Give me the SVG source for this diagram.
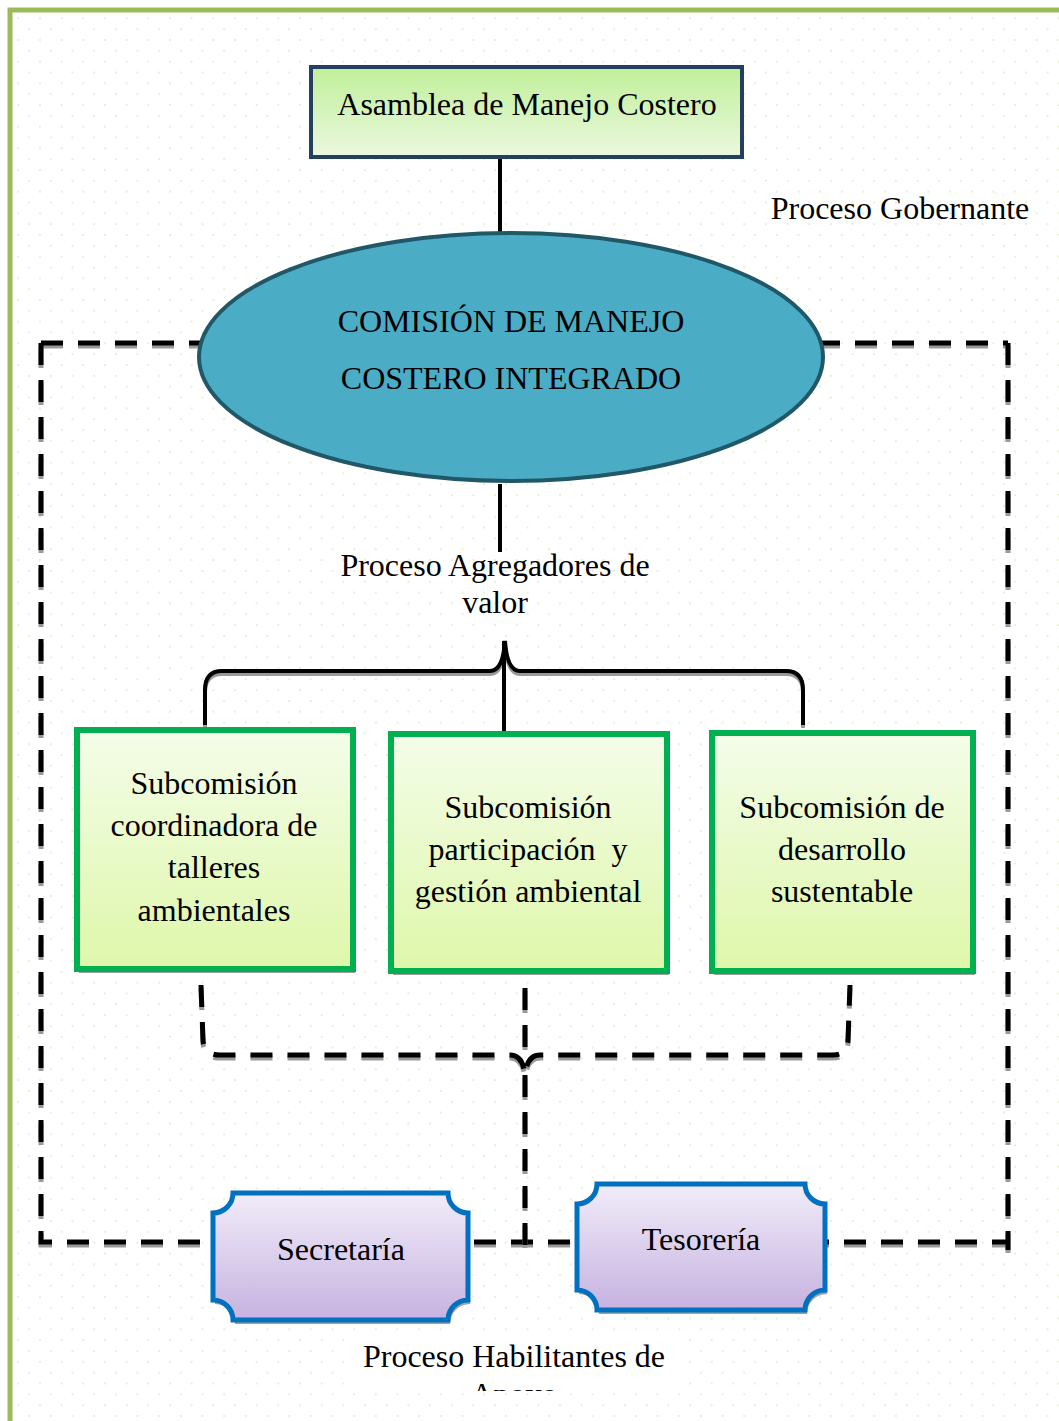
<svg xmlns="http://www.w3.org/2000/svg" width="1059" height="1421" viewBox="0 0 1059 1421">
<defs>
<pattern id="dots" patternUnits="userSpaceOnUse" x="18.3" y="18.3" width="21.67" height="21.67">
<circle cx="0" cy="0" r="1.1" fill="#e4ecca"/>
<circle cx="21.67" cy="0" r="1.1" fill="#e4ecca"/>
<circle cx="0" cy="21.67" r="1.1" fill="#e4ecca"/>
<circle cx="21.67" cy="21.67" r="1.1" fill="#e4ecca"/>
<circle cx="10.83" cy="10.83" r="1.1" fill="#e4ecca"/>
</pattern>
<linearGradient id="gTop" x1="0" y1="0" x2="0" y2="1">
<stop offset="0" stop-color="#c0ef98"/>
<stop offset="1" stop-color="#ebf8e0"/>
</linearGradient>
<linearGradient id="gGreen" x1="0" y1="0" x2="0" y2="1">
<stop offset="0" stop-color="#f4fde9"/>
<stop offset="1" stop-color="#def7aa"/>
</linearGradient>
<linearGradient id="gPurple" x1="0" y1="0" x2="0" y2="1">
<stop offset="0" stop-color="#f1ecf9"/>
<stop offset="1" stop-color="#c6b2e0"/>
</linearGradient>
<clipPath id="clipApoyo"><rect x="300" y="1330" width="450" height="61"/></clipPath>
</defs>
<style>
text{font-family:"Liberation Serif","Times New Roman",serif;font-size:32px;fill:#000;text-anchor:middle}
.dash{fill:none;stroke:#000;stroke-width:5;stroke-dasharray:22 15}
.dashsh{fill:none;stroke:#999;stroke-width:5;stroke-dasharray:22 15}
.solid{fill:none;stroke:#000;stroke-width:4}
.solidsh{fill:none;stroke:#999;stroke-width:4}
.gbox{fill:url(#gGreen);stroke:#00B050;stroke-width:6}
.pbox{fill:url(#gPurple);stroke:#0070C0;stroke-width:5}
.shadow{fill:#a0a0a0}
</style>
<rect x="0" y="0" width="1059" height="1421" fill="#fff"/>
<rect x="12" y="12" width="1047" height="1409" fill="url(#dots)"/>
<path d="M10 1421 V10 H1059" fill="none" stroke="#9BBB59" stroke-width="5"/>

<g id="connectors">
<!-- dashed frame -->
<g transform="translate(0,3)">
<path class="dashsh" d="M41 343 H1008 M41 343 V1242 H1008 M1008 343 V1250"/>
</g>
<path class="dash" d="M41 343 H1008 M41 343 V1242 H1008 M1008 343 V1250"/>
<!-- top line -->
<path class="solid" d="M500 157 V235"/>
<!-- ellipse to label -->
<path class="solid" d="M500 484 V552"/>
<!-- upper bracket -->
<g transform="translate(0,3)">
<path class="solidsh" d="M205 725 V690 Q205 671 222 671 H490 Q503 671 505 641 Q507 671 520 671 H786 Q803 671 803 690 V725"/>
</g>
<path class="solid" d="M205 725 V690 Q205 671 222 671 H490 Q503 671 505 641 Q507 671 520 671 H786 Q803 671 803 690 V725"/>
<path class="solid" d="M504 641 V738"/>
<!-- lower dashed brace -->
<g transform="translate(0,3)">
<path class="dashsh" d="M201 985 L203 1040 Q204 1055 220 1055 H510 Q523 1055 525 1075 Q527 1055 540 1055 H833 Q847 1055 848 1040 L850 985"/>
<path class="dashsh" d="M525 988 V1052 M525 1075 V1248"/>
</g>
<path class="dash" d="M201 985 L203 1040 Q204 1055 220 1055 H510 Q523 1055 525 1075 Q527 1055 540 1055 H833 Q847 1055 848 1040 L850 985"/>
<path class="dash" d="M525 988 V1052 M525 1075 V1248"/>
</g>

<g id="asamblea">
<rect x="311" y="67" width="431" height="90" fill="url(#gTop)" stroke="#243F60" stroke-width="4"/>
<text x="527" y="115">Asamblea de Manejo Costero</text>
</g>

<g id="label-gobernante">
<text x="900" y="219">Proceso Gobernante</text>
</g>

<g id="comision">
<ellipse cx="511" cy="357" rx="312" ry="124" fill="#4BACC6" stroke="#215868" stroke-width="4"/>
<text x="511" y="332">COMISIÓN DE MANEJO</text>
<text x="511" y="389">COSTERO INTEGRADO</text>
</g>

<g id="label-agregadores">
<text x="495" y="576">Proceso Agregadores de</text>
<text x="495" y="613">valor</text>
</g>

<g id="sub1">
<rect class="shadow" x="79" y="733" width="276" height="240"/>
<rect class="gbox" x="77" y="730" width="276" height="239"/>
<text x="214" y="794">Subcomisión</text>
<text x="214" y="836">coordinadora de</text>
<text x="214" y="878">talleres</text>
<text x="214" y="921">ambientales</text>
</g>

<g id="sub2">
<rect class="shadow" x="393" y="737" width="276" height="238"/>
<rect class="gbox" x="391" y="734" width="276" height="237"/>
<text x="528" y="818">Subcomisión</text>
<text x="528" y="860" xml:space="preserve">participación  y</text>
<text x="528" y="902">gestión ambiental</text>
</g>

<g id="sub3">
<rect class="shadow" x="714" y="736" width="261" height="239"/>
<rect class="gbox" x="712" y="733" width="261" height="238"/>
<text x="842" y="818">Subcomisión de</text>
<text x="842" y="860">desarrollo</text>
<text x="842" y="902">sustentable</text>
</g>

<g id="secretaria">
<path class="shadow" transform="translate(2,4)" d="M233 1193 H448 A20 20 0 0 0 468 1213 V1300 A20 20 0 0 0 448 1320 H233 A20 20 0 0 0 213 1300 V1213 A20 20 0 0 0 233 1193 Z"/>
<path class="pbox" d="M233 1193 H448 A20 20 0 0 0 468 1213 V1300 A20 20 0 0 0 448 1320 H233 A20 20 0 0 0 213 1300 V1213 A20 20 0 0 0 233 1193 Z"/>
<text x="341" y="1260">Secretaría</text>
</g>

<g id="tesoreria">
<path class="shadow" transform="translate(2,4)" d="M597 1184 H805 A20 20 0 0 0 825 1204 V1290 A20 20 0 0 0 805 1310 H597 A20 20 0 0 0 577 1290 V1204 A20 20 0 0 0 597 1184 Z"/>
<path class="pbox" d="M597 1184 H805 A20 20 0 0 0 825 1204 V1290 A20 20 0 0 0 805 1310 H597 A20 20 0 0 0 577 1290 V1204 A20 20 0 0 0 597 1184 Z"/>
<text x="701" y="1250">Tesorería</text>
</g>

<g id="label-habilitantes">
<rect x="345" y="1330" width="340" height="61" fill="#fff"/>
<g clip-path="url(#clipApoyo)">
<text x="514" y="1367">Proceso Habilitantes de</text>
<text x="514" y="1405">Apoyo</text>
</g>
</g>
</svg>
